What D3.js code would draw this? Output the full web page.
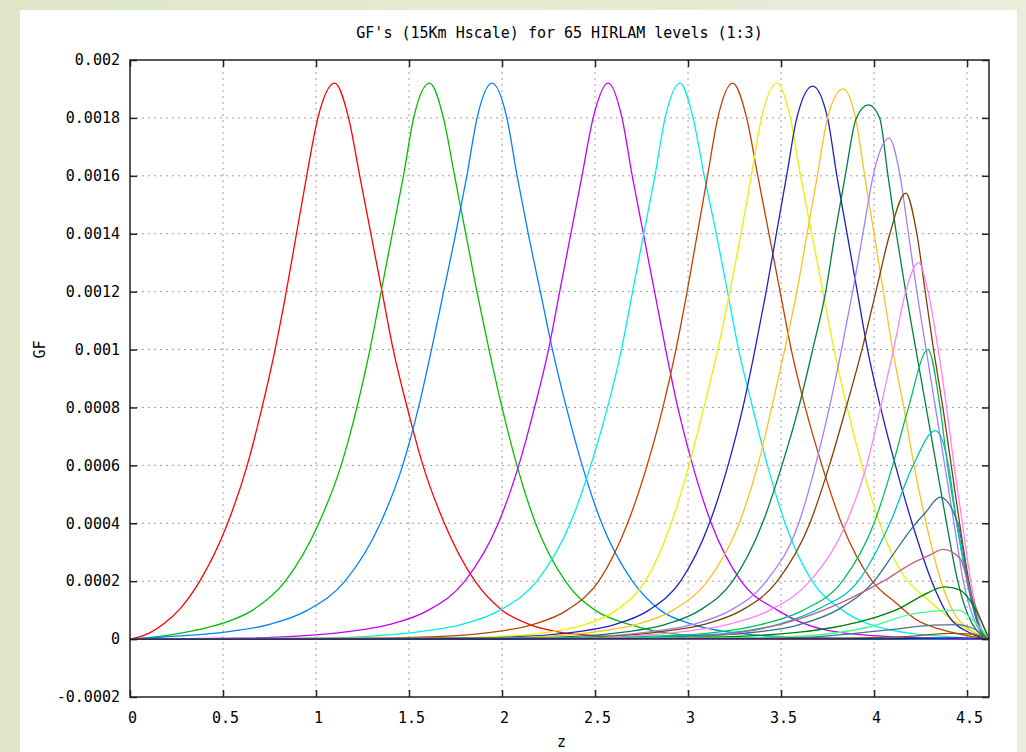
<!DOCTYPE html>
<html>
<head>
<meta charset="utf-8">
<script src="https://cdn.jsdelivr.net/npm/d3@7"></script>
<style>
  html, body { margin: 0; padding: 0; }
  body { width: 1026px; height: 752px; overflow: hidden; background: linear-gradient(to right, #dfe7c8, #e8eed9); }
  svg { position: absolute; left: 0; top: 0; }
  text { font-family: "DejaVu Sans Mono", monospace; font-size: 15px; fill: #000; }
</style>
</head>
<body>
<svg id="chart" width="1026" height="752"></svg>
<script>
// GF curves, one per plotted level: [z, GF]
var gf01 = [[0,0],[0.05,0.000008],[0.1,0.00002],[0.18,0.000052],[0.27,0.000105],[0.375,0.0002],[0.525,0.0004],[0.63,0.0006],[0.71,0.0008],[0.78,0.001],[0.84,0.0012],[0.895,0.0014],[0.95,0.0016],[1.01,0.0018],[1.10,0.00192],[1.175,0.0018],[1.235,0.0016],[1.295,0.0014],[1.355,0.0012],[1.415,0.001],[1.49,0.0008],[1.575,0.0006],[1.69,0.0004],[1.855,0.0002],[2.0,0.0001],[2.15,0.00005],[2.3,0.000025],[2.55,0.00001],[2.9,0.000003],[3.5,0],[4.618,0]];
var gf04 = [[0,0],[0.1,0.000005],[0.2,0.000013],[0.35,0.00003],[0.5,0.000055],[0.66,0.0001],[0.835,0.0002],[1.015,0.0004],[1.135,0.0006],[1.22,0.0008],[1.29,0.001],[1.35,0.0012],[1.41,0.0014],[1.47,0.0016],[1.525,0.0018],[1.61,0.00192],[1.685,0.0018],[1.745,0.0016],[1.805,0.0014],[1.865,0.0012],[1.93,0.001],[2.0,0.0008],[2.08,0.0006],[2.18,0.0004],[2.34,0.0002],[2.5,0.0001],[2.69,0.00005],[2.9,0.00002],[3.3,0.000004],[4.0,0],[4.618,0]];
var gf07 = [[0,0],[0.25,0.00001],[0.52,0.000025],[0.745,0.00005],[0.955,0.0001],[1.156,0.0002],[1.346,0.0004],[1.466,0.0006],[1.551,0.0008],[1.621,0.001],[1.686,0.0012],[1.751,0.0014],[1.811,0.0016],[1.866,0.0018],[1.946,0.00192],[2.026,0.0018],[2.081,0.0016],[2.141,0.0014],[2.206,0.0012],[2.271,0.001],[2.346,0.0008],[2.431,0.0006],[2.536,0.0004],[2.701,0.0002],[2.85,0.0001],[3.03,0.00005],[3.3,0.000018],[3.7,0.000004],[4.2,0],[4.618,0]];
var gf10 = [[0,0],[0.6,0.000003],[0.9,0.00001],[1.16,0.000025],[1.39,0.00005],[1.605,0.0001],[1.80,0.0002],[1.98,0.0004],[2.09,0.0006],[2.175,0.0008],[2.25,0.001],[2.31,0.0012],[2.37,0.0014],[2.43,0.0016],[2.49,0.0018],[2.57,0.00192],[2.645,0.0018],[2.70,0.0016],[2.76,0.0014],[2.82,0.0012],[2.88,0.001],[2.945,0.0008],[3.025,0.0006],[3.125,0.0004],[3.285,0.0002],[3.48,0.0001],[3.75,0.00003],[4.1,0.000008],[4.618,0]];
var gf13 = [[0,0],[1.0,0.000003],[1.3,0.00001],[1.55,0.000025],[1.78,0.00005],[1.99,0.0001],[2.187,0.0002],[2.367,0.0004],[2.477,0.0006],[2.567,0.0008],[2.642,0.001],[2.702,0.0012],[2.762,0.0014],[2.822,0.0016],[2.877,0.0018],[2.957,0.00192],[3.027,0.0018],[3.087,0.0016],[3.152,0.0014],[3.212,0.0012],[3.272,0.001],[3.347,0.0008],[3.427,0.0006],[3.522,0.0004],[3.667,0.0002],[3.83,0.0001],[4.1,0.00003],[4.4,0.000008],[4.618,0]];
var gf16 = [[0,0],[1.3,0.000003],[1.7,0.00001],[1.96,0.000025],[2.165,0.00005],[2.35,0.0001],[2.52,0.0002],[2.675,0.0004],[2.78,0.0006],[2.865,0.0008],[2.935,0.001],[2.995,0.0012],[3.05,0.0014],[3.105,0.0016],[3.16,0.0018],[3.24,0.00192],[3.315,0.0018],[3.375,0.0016],[3.435,0.0014],[3.495,0.0012],[3.555,0.001],[3.63,0.0008],[3.72,0.0006],[3.825,0.0004],[3.99,0.0002],[4.12,0.000124],[4.23,0.000066],[4.35,0.000035],[4.5,0.000012],[4.618,0]];
var gf19 = [[0,0],[1.6,0.000003],[2.02,0.00001],[2.26,0.000025],[2.445,0.00005],[2.615,0.0001],[2.77,0.0002],[2.91,0.0004],[3.005,0.0006],[3.085,0.0008],[3.16,0.001],[3.225,0.0012],[3.285,0.0014],[3.34,0.0016],[3.395,0.0018],[3.48,0.00192],[3.55,0.0018],[3.605,0.0016],[3.665,0.0014],[3.725,0.0012],[3.785,0.001],[3.855,0.0008],[3.935,0.0006],[4.03,0.0004],[4.13,0.00025],[4.30,0.00013],[4.46,0.00005],[4.618,0]];
var gf22 = [[0,0],[1.8,0.000003],[2.15,0.00001],[2.4,0.000025],[2.605,0.00005],[2.79,0.0001],[2.96,0.0002],[3.115,0.0004],[3.215,0.0006],[3.295,0.0008],[3.36,0.001],[3.42,0.0012],[3.475,0.0014],[3.53,0.0016],[3.585,0.0018],[3.67,0.00191],[3.75,0.0018],[3.80,0.0016],[3.855,0.0014],[3.91,0.0012],[3.965,0.001],[4.035,0.0008],[4.115,0.0006],[4.205,0.0004],[4.31,0.0002],[4.40,0.00008],[4.52,0.00002],[4.618,0]];
var gf25 = [[0,0],[1.9,0.000003],[2.25,0.00001],[2.5,0.000025],[2.72,0.00005],[2.92,0.0001],[3.105,0.0002],[3.275,0.0004],[3.375,0.0006],[3.45,0.0008],[3.52,0.001],[3.585,0.0012],[3.64,0.0014],[3.695,0.0016],[3.75,0.0018],[3.835,0.0019],[3.90,0.0018],[3.95,0.0016],[4.0,0.0014],[4.05,0.0012],[4.10,0.001],[4.16,0.0008],[4.215,0.0006],[4.28,0.0004],[4.36,0.0002],[4.43,0.00009],[4.52,0.00003],[4.618,0]];
var gf28 = [[0,0],[2.05,0.000003],[2.42,0.00001],[2.665,0.000025],[2.875,0.00005],[3.065,0.0001],[3.24,0.0002],[3.40,0.0004],[3.505,0.0006],[3.595,0.0008],[3.67,0.001],[3.74,0.0012],[3.79,0.0014],[3.845,0.0016],[3.905,0.0018],[3.97,0.001845],[4.03,0.0018],[4.075,0.0016],[4.12,0.0014],[4.17,0.0012],[4.225,0.001],[4.28,0.0008],[4.335,0.0006],[4.39,0.0004],[4.45,0.0002],[4.53,0.00005],[4.618,0]];
var gf31 = [[0,0],[2.2,0.000003],[2.54,0.00001],[2.79,0.000025],[3.02,0.00005],[3.23,0.0001],[3.42,0.0002],[3.595,0.0004],[3.685,0.0006],[3.76,0.0008],[3.825,0.001],[3.885,0.0012],[3.94,0.0014],[3.995,0.0016],[4.08,0.00173],[4.14,0.0016],[4.185,0.0014],[4.23,0.0012],[4.28,0.001],[4.33,0.0008],[4.38,0.0006],[4.43,0.0004],[4.48,0.0002],[4.55,0.00005],[4.618,0]];
var gf34 = [[0,0],[2.25,0.000003],[2.6,0.00001],[2.85,0.000025],[3.08,0.00005],[3.29,0.0001],[3.48,0.0002],[3.655,0.0004],[3.76,0.0006],[3.85,0.0008],[3.935,0.001],[4.01,0.0012],[4.085,0.0014],[4.17,0.00154],[4.23,0.0014],[4.275,0.0012],[4.32,0.001],[4.37,0.0008],[4.415,0.0006],[4.46,0.0004],[4.51,0.0002],[4.56,0.00006],[4.618,0]];
var gf37 = [[0,0],[2.35,0.000003],[2.68,0.00001],[2.96,0.000025],[3.21,0.00005],[3.44,0.0001],[3.655,0.0002],[3.85,0.0004],[3.96,0.0006],[4.035,0.0008],[4.105,0.001],[4.17,0.0012],[4.24,0.0013],[4.29,0.0012],[4.345,0.001],[4.39,0.0008],[4.43,0.0006],[4.475,0.0004],[4.52,0.0002],[4.565,0.00006],[4.618,0]];
var gf40 = [[0,0],[2.5,0.000003],[2.8,0.00001],[3.1,0.00002],[3.39,0.00005],[3.62,0.0001],[3.83,0.0002],[4.0,0.0004],[4.10,0.0006],[4.185,0.0008],[4.29,0.001],[4.355,0.0008],[4.395,0.0006],[4.445,0.0004],[4.50,0.0002],[4.56,0.00005],[4.618,0]];
var gf43 = [[0,0],[2.6,0.000003],[2.9,0.00001],[3.2,0.00002],[3.48,0.00005],[3.71,0.000107],[3.915,0.0002],[4.085,0.0004],[4.21,0.0006],[4.33,0.00072],[4.40,0.0006],[4.445,0.0004],[4.50,0.0002],[4.56,0.00005],[4.618,0]];
var gf46 = [[0,0],[2.7,0.000003],[3.0,0.00001],[3.3,0.00002],[3.6,0.00005],[3.82,0.000107],[4.0,0.0002],[4.1,0.00029],[4.2,0.00038],[4.28,0.00044],[4.355,0.00049],[4.45,0.0004],[4.505,0.0002],[4.56,0.00005],[4.618,0]];
var gf49 = [[0,0],[2.8,0.000003],[3.1,0.00001],[3.35,0.00003],[3.6,0.00007],[3.87,0.00014],[4.05,0.0002],[4.2,0.00026],[4.3,0.00029],[4.37,0.00031],[4.46,0.00028],[4.53,0.00014],[4.618,0]];
var gf52 = [[0,0],[2.9,0.000003],[3.3,0.00001],[3.6,0.000024],[3.78,0.00004],[3.96,0.000066],[4.14,0.000107],[4.26,0.00015],[4.38,0.00018],[4.46,0.00017],[4.53,0.00012],[4.618,0]];
var gf55 = [[0,0],[3.2,0.000004],[3.6,0.00001],[3.96,0.00004],[4.23,0.00009],[4.45,0.0001],[4.54,0.00006],[4.618,0]];
var gf58 = [[0,0],[3.3,0.000002],[3.6,0.000005],[4.05,0.00003],[4.32,0.000048],[4.45,0.00005],[4.52,0.00004],[4.618,0]];
var gf61 = [[0,0],[3.5,0.000002],[4.14,0.000008],[4.41,0.00002],[4.53,0.000017],[4.618,0]];
var gf64 = [[0,0],[4.0,0.000001],[4.45,0.000004],[4.618,0]];

var levels = [gf01, gf04, gf07, gf10, gf13, gf16, gf19, gf22, gf25, gf28, gf31,
              gf34, gf37, gf40, gf43, gf46, gf49, gf52, gf55, gf58, gf61, gf64];
var colors = ["#ff0000", "#00c000", "#0080ff", "#c000ff", "#00eeee", "#c04000",
              "#eeee00", "#2020c0", "#ffc020", "#008040", "#a080ff", "#804000",
              "#ff80ff", "#00c060", "#00c0c0", "#30708f", "#c06080", "#008000",
              "#40ff80", "#507090", "#806000", "#1c1c8c"];

var xTicks = [0, 0.5, 1, 1.5, 2, 2.5, 3, 3.5, 4, 4.5];
var yTicks = [-0.0002, 0, 0.0002, 0.0004, 0.0006, 0.0008, 0.001, 0.0012, 0.0014, 0.0016, 0.0018, 0.002];

var title = "GF's (15Km Hscale) for 65 HIRLAM levels (1:3)";

// plot frame in page pixels
var pL = 130, pT = 60, pR = 989, pB = 697;

var x = d3.scaleLinear().domain([0, 4.618]).range([pL, pR]);
var y = d3.scaleLinear().domain([-0.0002, 0.002]).range([pB, pT]);

var svg = d3.select("#chart");

// white panel over the green page
svg.append("rect")
    .attr("x", 20).attr("y", 10)
    .attr("width", 997).attr("height", 742)
    .attr("fill", "#ffffff");

// dotted grid
svg.append("g").selectAll("line")
    .data(yTicks.filter(d => d > -0.0002 && d < 0.002))
    .join("line")
    .attr("x1", pL).attr("x2", pR)
    .attr("y1", d => y(d)).attr("y2", d => y(d))
    .attr("stroke", "#a0a0a0")
    .attr("stroke-dasharray", "2,4");

svg.append("g").selectAll("line")
    .data(xTicks.filter(d => d > 0))
    .join("line")
    .attr("x1", d => x(d)).attr("x2", d => x(d))
    .attr("y1", pT).attr("y2", pB)
    .attr("stroke", "#a0a0a0")
    .attr("stroke-dasharray", "2,4");

// curves
var line = d3.line()
    .x(d => x(d[0]))
    .y(d => y(d[1]))
    .curve(d3.curveMonotoneX);

svg.append("g")
    .selectAll("path")
    .data(levels)
    .join("path")
    .attr("d", line)
    .attr("fill", "none")
    .attr("stroke", (d, i) => colors[i])
    .attr("stroke-width", 1.3);

// axes, ticks pointing inward on all four sides
var fmt = d => String(+d.toFixed(4));

var yAxis = svg.append("g")
    .attr("transform", "translate(" + pL + ",0)")
    .call(d3.axisLeft(y).tickValues(yTicks).tickSize(-7).tickPadding(10).tickFormat(fmt));

var xAxis = svg.append("g")
    .attr("transform", "translate(0," + pB + ")")
    .call(d3.axisBottom(x).tickValues(xTicks).tickSize(-7).tickPadding(15).tickFormat(fmt));

svg.append("g")
    .attr("transform", "translate(" + pR + ",0)")
    .call(d3.axisRight(y).tickValues(yTicks).tickSize(-7).tickFormat(""));

svg.append("g")
    .attr("transform", "translate(0," + pT + ")")
    .call(d3.axisTop(x).tickValues(xTicks).tickSize(-7).tickFormat(""));

svg.selectAll(".domain").remove();
svg.selectAll(".tick line").attr("stroke", "#222").attr("stroke-width", 1.5);
svg.selectAll(".tick text")
    .attr("font-family", "DejaVu Sans Mono, monospace")
    .attr("font-size", 15)
    .attr("fill", "#000");
xAxis.selectAll("text").attr("dx", 2);

// frame
svg.append("rect")
    .attr("x", pL).attr("y", pT)
    .attr("width", pR - pL).attr("height", pB - pT)
    .attr("fill", "none")
    .attr("stroke", "#222")
    .attr("stroke-width", 1.5);

// labels
svg.append("text")
    .attr("x", (pL + pR) / 2).attr("y", 38)
    .attr("text-anchor", "middle")
    .text(title);

svg.append("text")
    .attr("x", (pL + pR) / 2 + 2).attr("y", 747)
    .attr("text-anchor", "middle")
    .text("z");

svg.append("text")
    .attr("transform", "translate(45," + y(0.001) + ") rotate(-90)")
    .attr("text-anchor", "middle")
    .text("GF");
</script>
</body>
</html>
